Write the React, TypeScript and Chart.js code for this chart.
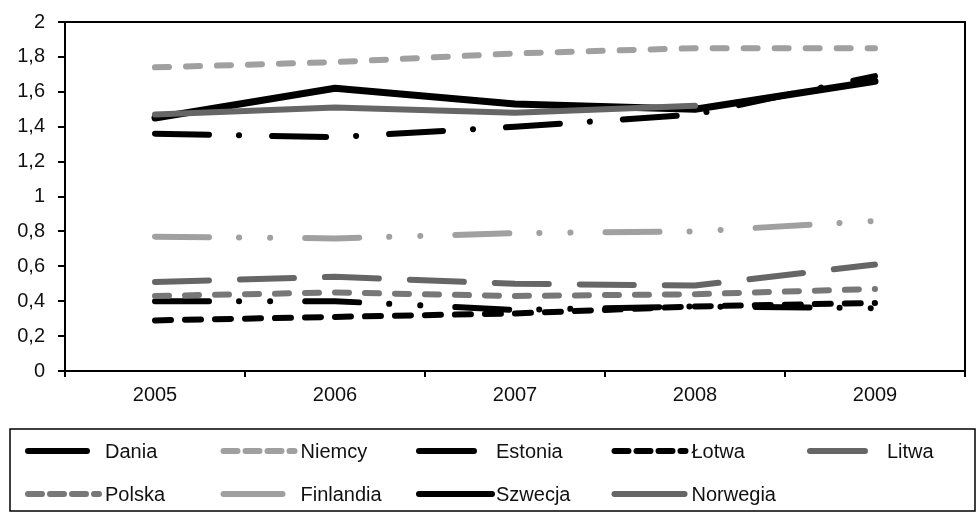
import React, { useEffect, useRef } from "react";
import { Chart, registerables } from "chart.js";

Chart.register(...registerables);

const years = ["2005", "2006", "2007", "2008", "2009"];
const seriesNames = ["Dania", "Niemcy", "Estonia", "Łotwa", "Litwa", "Polska", "Finlandia", "Szwecja", "Norwegia"];

const dania = [1.45, 1.62, 1.53, 1.5, 1.66];
const niemcy = [1.74, 1.77, 1.82, 1.85, 1.85];
const estonia = [0.4, 0.4, 0.35, 0.37, 0.36];
const lotwa = [0.29, 0.31, 0.33, 0.37, 0.39];
const litwa = [0.51, 0.54, 0.5, 0.49, 0.61];
const polska = [0.43, 0.45, 0.43, 0.44, 0.47];
const finlandia = [0.77, 0.76, 0.79, 0.8, 0.86];
const szwecja = [1.36, 1.34, 1.4, 1.47, 1.69];
const norwegia = [1.47, 1.51, 1.48, 1.52, null];

const yTicks = [0, 0.2, 0.4, 0.6, 0.8, 1, 1.2, 1.4, 1.6, 1.8, 2];

const FONT = "'Liberation Sans', Arial, sans-serif";

const styles = [
  { color: "#000000", width: 7, dash: [] as number[], legendEnd: 62 },
  { color: "#a0a0a0", width: 6, dash: [14, 17], legendEnd: 74 },
  { color: "#000000", width: 6, dash: [54, 30, 0.1, 31, 0.1, 35], legendEnd: 58 },
  { color: "#000000", width: 6, dash: [16, 14], legendEnd: 74 },
  { color: "#666666", width: 6, dash: [54, 31], legendEnd: 58 },
  { color: "#777777", width: 6, dash: [14, 16], legendEnd: 74 },
  { color: "#a0a0a0", width: 6, dash: [54, 30, 0.1, 31, 0.1, 35], legendEnd: 62 },
  { color: "#000000", width: 6, dash: [54, 30, 0.1, 33], legendEnd: 76 },
  { color: "#666666", width: 6, dash: [] as number[], legendEnd: 73 },
];

const values = [dania, niemcy, estonia, lotwa, litwa, polska, finlandia, szwecja, norwegia];

const legendDash: number[][] = [[], [14, 8], [], [14, 8], [], [14, 8], [], [], []];

const borderPlugin = {
  id: "frame",
  beforeDatasetsDraw(chart: any) {
    const { ctx, chartArea } = chart;
    ctx.save();
    ctx.strokeStyle = "#000";
    ctx.lineWidth = 2;
    ctx.beginPath();
    ctx.moveTo(chartArea.left, chartArea.top);
    ctx.lineTo(chartArea.right, chartArea.top);
    ctx.lineTo(chartArea.right, chartArea.bottom);
    ctx.stroke();
    ctx.restore();
  },
  afterDraw(chart: any) {
    const { ctx } = chart;
    ctx.save();
    ctx.strokeStyle = "#000";
    ctx.lineWidth = 1.5;
    ctx.strokeRect(10, 429, 965, 82);
    ctx.font = `20px ${FONT}`;
    ctx.textBaseline = "middle";
    ctx.fillStyle = "#111";
    chart.data.datasets.forEach((ds: any, i: number) => {
      const row = Math.floor(i / 5);
      const col = i % 5;
      const x0 = 25 + col * 195.5;
      const y = row === 0 ? 451 : 494;
      ctx.save();
      ctx.strokeStyle = ds.borderColor;
      ctx.lineWidth = 6;
      ctx.lineCap = "round";
      ctx.setLineDash(legendDash[i]);
      ctx.beginPath();
      ctx.moveTo(x0 + 3, y);
      ctx.lineTo(x0 + styles[i].legendEnd, y);
      ctx.stroke();
      ctx.restore();
      ctx.fillText(ds.label, x0 + 80, y + 1);
    });
    ctx.restore();
  },
};

export default function App() {
  const ref = useRef<HTMLCanvasElement>(null);
  useEffect(() => {
    if (!ref.current) return;
    const n = seriesNames.length;
    const chart = new Chart(ref.current, {
      type: "line",
      data: {
        labels: years,
        datasets: seriesNames.map((name, i) => ({
          label: name,
          data: values[i],
          borderColor: styles[i].color,
          backgroundColor: styles[i].color,
          borderWidth: styles[i].width,
          borderDash: styles[i].dash,
          borderCapStyle: "round",
          borderJoinStyle: "round",
          pointRadius: 0,
          tension: 0,
          fill: false,
          spanGaps: false,
          order: n - 1 - i,
        })),
      },
      options: {
        animation: false,
        responsive: false,
        layout: { autoPadding: false, padding: { left: 0, top: 22, right: 15, bottom: 100 } },
        plugins: { legend: { display: false }, tooltip: { enabled: false }, title: { display: false } },
        scales: {
          x: {
            type: "category",
            offset: true,
            grid: { display: true, offset: true, drawOnChartArea: false, drawTicks: true, tickLength: 6, color: "#000", lineWidth: 2 },
            border: { display: true, color: "#000", width: 2 },
            ticks: { color: "#111", font: { family: FONT, size: 20 }, padding: 6, maxRotation: 0 },
            afterFit: (s: any) => { s.height = 41; s.paddingLeft = 0; s.paddingRight = 0; },
          },
          y: {
            min: 0,
            max: 2,
            afterBuildTicks: (s: any) => { s.ticks = yTicks.map((v) => ({ value: v })); },
            grid: { display: true, drawOnChartArea: false, drawTicks: true, tickLength: 7, color: "#000", lineWidth: 2 },
            border: { display: true, color: "#000", width: 2 },
            ticks: {
              color: "#111",
              font: { family: FONT, size: 20 },
              padding: 13,
              callback: (v: any) => String(Math.round(Number(v) * 10) / 10).replace(".", ","),
            },
            afterFit: (s: any) => { s.width = 65; s.paddingTop = 0; s.paddingBottom = 0; },
          },
        },
      },
      plugins: [borderPlugin],
    });
    return () => chart.destroy();
  }, []);
  return (
    <div style={{ position: "fixed", left: 0, top: 0, width: 980, height: 512, background: "#fff" }}>
      <canvas ref={ref} width={980} height={512} />
    </div>
  );
}
